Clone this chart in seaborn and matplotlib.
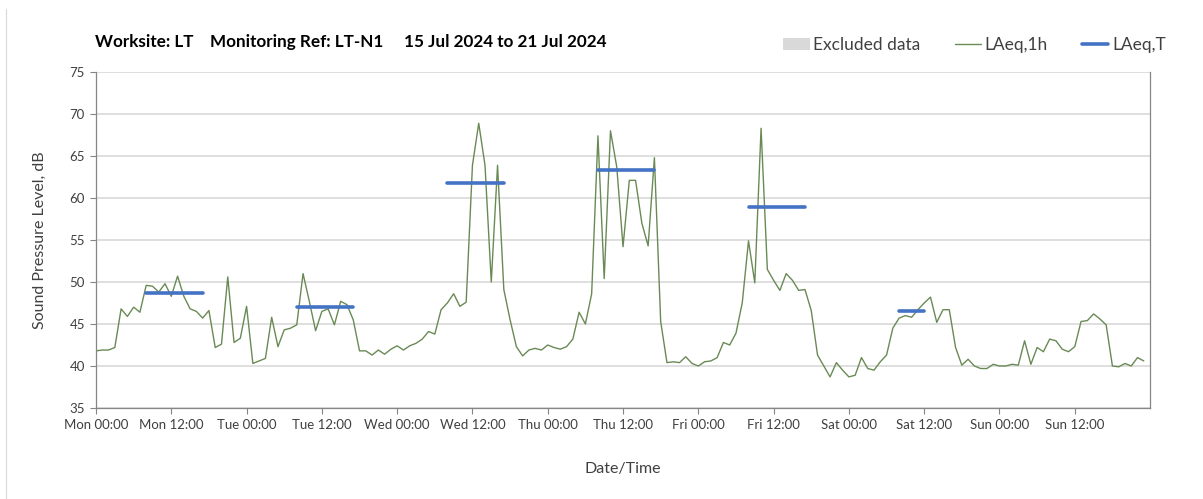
import numpy as np
import pandas as pd
import matplotlib
matplotlib.use('Agg')
import matplotlib.pyplot as plt
import seaborn as sns
from matplotlib.patches import Patch
from matplotlib.lines import Line2D

# Hourly LAeq,1h values, Mon 00:00 to Sun 23:00
laeq_1h = [
    41.8, 41.9, 41.9, 42.2, 46.8, 45.9, 47.0, 46.4, 49.6, 49.5, 48.8, 49.8,
    48.3, 50.7, 48.3, 46.8, 46.5, 45.7, 46.6, 42.2, 42.6, 50.6, 42.8, 43.3,
    47.1, 40.3, 40.6, 40.9, 45.8, 42.3, 44.3, 44.5, 44.9, 51.0, 47.7, 44.2,
    46.5, 46.8, 44.9, 47.7, 47.3, 45.5, 41.8, 41.8, 41.3, 41.9, 41.4, 42.0,
    42.4, 41.9, 42.4, 42.7, 43.2, 44.1, 43.8, 46.7, 47.5, 48.6, 47.1, 47.6,
    63.9, 68.9, 63.9, 50.0, 63.9, 49.1, 45.5, 42.3, 41.2, 41.9, 42.1, 41.9,
    42.5, 42.2, 42.0, 42.3, 43.2, 46.4, 45.0, 48.6, 67.4, 50.4, 68.0, 63.7,
    54.2, 62.1, 62.1, 57.0, 54.3, 64.8, 45.3, 40.4, 40.5, 40.4, 41.1, 40.3,
    40.0, 40.5, 40.6, 41.0, 42.8, 42.5, 43.9, 47.5, 54.9, 49.9, 68.3, 51.5,
    50.2, 49.0, 51.0, 50.2, 49.0, 49.1, 46.6, 41.3, 40.0, 38.7, 40.4, 39.5,
    38.7, 38.9, 41.0, 39.7, 39.5, 40.5, 41.3, 44.5, 45.7, 46.0, 45.8, 46.7,
    47.5, 48.2, 45.2, 46.7, 46.7, 42.2, 40.1, 40.8, 40.0, 39.7, 39.7, 40.2,
    40.0, 40.0, 40.2, 40.1, 43.0, 40.2, 42.2, 41.7, 43.2, 43.0, 42.0, 41.7,
    42.3, 45.3, 45.4, 46.2, 45.6, 44.9, 40.0, 39.9, 40.3, 40.0, 41.0, 40.6,
]
hours = np.arange(len(laeq_1h))

# LAeq,T periods (hour from Mon 00:00)
period_start = [8, 32, 56, 80, 104, 128]
period_end = [17, 41, 65, 89, 113, 132]
laeq_t = [48.7, 47.0, 61.8, 63.3, 58.9, 46.6]

day_names = ['Mon', 'Tue', 'Wed', 'Thu', 'Fri', 'Sat', 'Sun']

sns.set_theme(style='white')
plt.rcParams['font.family'] = ['Lato', 'DejaVu Sans']

text_col = '#404040'
grid_col = '#D9D9D9'
spine_col = '#868686'
green = '#6A8A55'
blue = '#4472C4'

fig = plt.figure(figsize=(12.03, 4.99), dpi=100)
ax = fig.add_axes([0.0798, 0.1824, 0.8762, 0.6733])

hourly = pd.DataFrame({'hour': hours, 'level': laeq_1h})
sns.lineplot(data=hourly, x='hour', y='level', color=green, linewidth=1.0, ax=ax)

periods = pd.DataFrame({
    'hour': period_start + period_end,
    'level': laeq_t + laeq_t,
    'period': list(range(len(laeq_t))) * 2,
})
sns.lineplot(data=periods, x='hour', y='level', units='period', estimator=None,
             color=blue, linewidth=2.6, ax=ax)

ax.set_xlim(0, 168)
ax.set_ylim(35, 75)
ax.set_yticks(range(35, 76, 5))

xticks = list(range(0, 168, 12))
xlabels = [f"{day_names[t // 24]} {'00:00' if t % 24 == 0 else '12:00'}" for t in xticks]
ax.set_xticks(xticks)
ax.set_xticklabels(xlabels)
ax.set_xticks(list(range(24, 168, 24)), minor=True)

ax.grid(False)
ax.grid(axis='y', which='major', color=grid_col, linewidth=1.2)
ax.grid(axis='x', which='minor', color=grid_col, linewidth=1.2)
ax.set_axisbelow(True)

ax.tick_params(axis='both', which='major', direction='out', length=4, width=0.8,
               color=spine_col, labelsize=9.5, labelcolor=text_col, pad=4, bottom=True, left=True)
ax.tick_params(axis='x', which='minor', length=0)

for side in ['left', 'bottom', 'right']:
    ax.spines[side].set_color(spine_col)
    ax.spines[side].set_linewidth(0.9)
ax.spines['top'].set_visible(False)

ax.set_xlabel('Date/Time', fontsize=11.5, color=text_col, labelpad=22)
ax.set_ylabel('Sound Pressure Level, dB', fontsize=11.5, color=text_col, labelpad=16)

fig.text(0.079, 0.916, 'Worksite: LT    Monitoring Ref: LT-N1     15 Jul 2024 to 21 Jul 2024',
         fontsize=12.3, fontweight='bold', color='black', va='center', ha='left')

handles = [
    Patch(facecolor='#D9D9D9', edgecolor='none'),
    Line2D([0], [0], color=green, linewidth=1.0),
    Line2D([0], [0], color=blue, linewidth=2.6),
]
fig.legend(handles, ['Excluded data', 'LAeq,1h', 'LAeq,T'], loc='center right',
           bbox_to_anchor=(0.982, 0.91), ncol=3, frameon=False, fontsize=12.5,
           handlelength=1.5, columnspacing=2.0, handletextpad=0.2, labelcolor=text_col)

# faint chart-area edge on the left
fig.add_artist(Line2D([6 / 1203, 6 / 1203], [0, 1 - 9 / 499], transform=fig.transFigure,
                      color='#D9D9D9', linewidth=0.8))

fig.savefig('out.png', dpi=100)
